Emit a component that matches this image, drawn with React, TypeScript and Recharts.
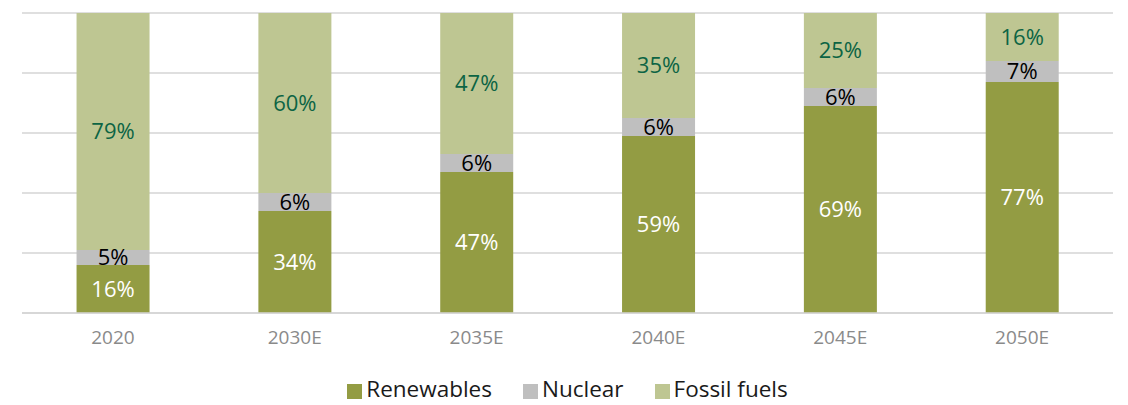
import { Bar, BarChart, CartesianGrid, LabelList, Legend, XAxis, YAxis } from "recharts";

const years = ["2020", "2030E", "2035E", "2040E", "2045E", "2050E"];
const renewables = [16, 34, 47, 59, 69, 77];
const nuclear = [5, 6, 6, 6, 6, 7];
const fossil = [79, 60, 47, 35, 25, 16];
const yTicks = [0, 20, 40, 60, 80, 100];

const data = years.map((year, i) => ({
  year,
  renewables: renewables[i],
  nuclear: nuclear[i],
  fossil: fossil[i],
}));

const FONT = "'Open Sans', sans-serif";

const series = [
  { key: "renewables", name: "Renewables", color: "#939c43", text: "#ffffff" },
  { key: "nuclear", name: "Nuclear", color: "#bfbfbf", text: "#000000" },
  { key: "fossil", name: "Fossil fuels", color: "#bec692", text: "#0c6444" },
];

const LegendContent = () => (
  <div
    style={{
      display: "flex",
      justifyContent: "center",
      gap: 31,
      paddingTop: 19,
      fontFamily: FONT,
      fontSize: 22.5,
      lineHeight: "30px",
      color: "#1a1a1a",
    }}
  >
    {series.map((s) => (
      <div key={s.key} style={{ display: "flex", alignItems: "center" }}>
        <span
          style={{
            display: "inline-block",
            width: 15,
            height: 15,
            background: s.color,
            marginRight: 4,
            marginTop: 5,
          }}
        />
        {s.name}
      </div>
    ))}
  </div>
);

export default function App() {
  return (
    <div style={{ position: "absolute", left: 0, top: 0, background: "#fff" }}>
      <BarChart
        width={1128}
        height={405}
        data={data}
        margin={{ top: 13, right: 15, left: 22, bottom: 0 }}
        barCategoryGap="30%"
      >
        <CartesianGrid vertical={false} stroke="#d4d4d4" strokeWidth={1.5} />
        <XAxis
          dataKey="year"
          height={42}
          tickLine={false}
          axisLine={{ stroke: "#d4d4d4", strokeWidth: 1.5 }}
          tickMargin={12}
          tick={{ fontSize: 19, fill: "#8a8a8a", fontFamily: FONT }}
        />
        <YAxis hide domain={[0, 100]} ticks={yTicks} />
        <Legend verticalAlign="bottom" height={50} content={LegendContent} />
        {series.map((s) => (
          <Bar
            key={s.key}
            dataKey={s.key}
            name={s.name}
            stackId="a"
            fill={s.color}
            isAnimationActive={false}
          >
            <LabelList
              dataKey={s.key}
              position="center"
              formatter={(v: number) => `${v}%`}
              style={{ fill: s.text, fontSize: 22, fontFamily: FONT }}
            />
          </Bar>
        ))}
      </BarChart>
    </div>
  );
}
